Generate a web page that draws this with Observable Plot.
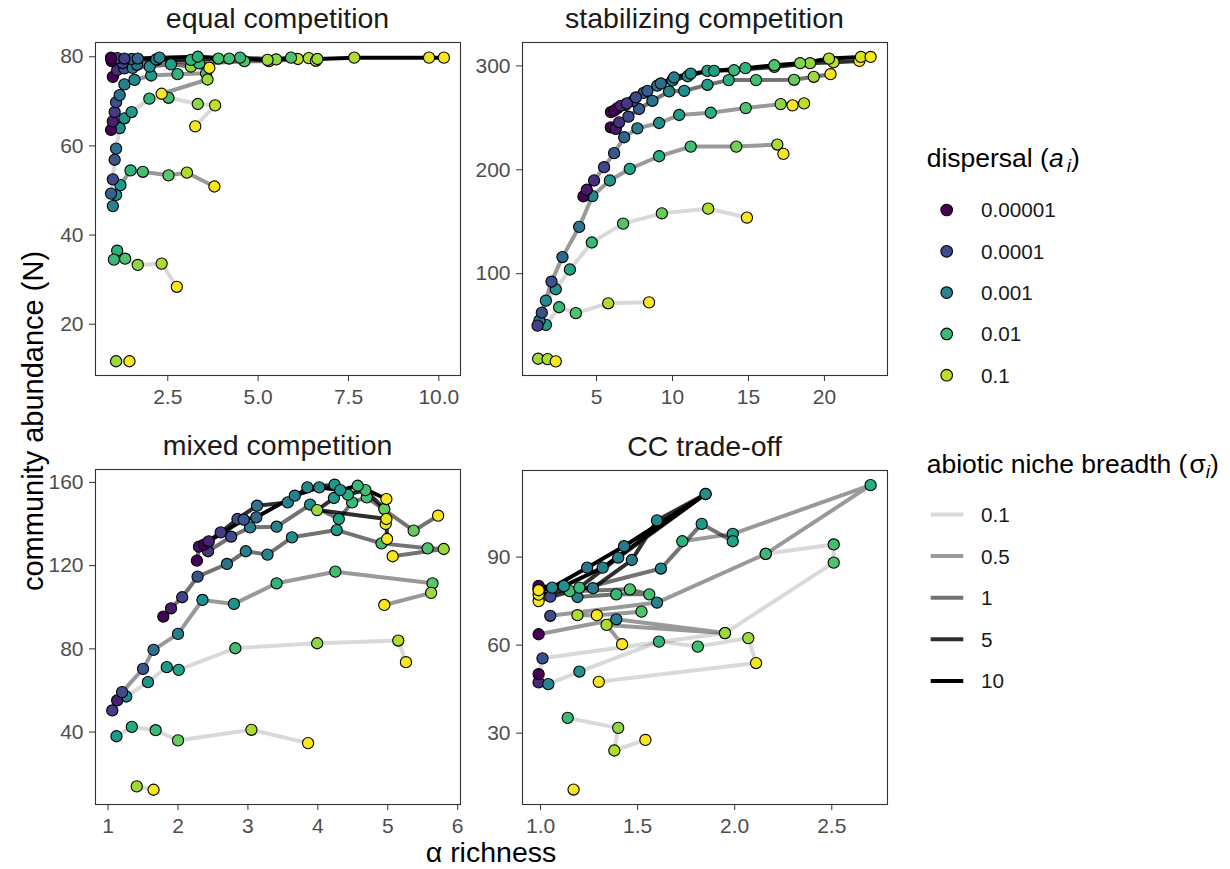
<!DOCTYPE html>
<html><head><meta charset="utf-8">
<script src="https://cdn.jsdelivr.net/npm/d3@7"></script>
<script src="https://cdn.jsdelivr.net/npm/@observablehq/plot@0.6"></script>
<style>
body{margin:0;background:#fff;}
#wrap{position:relative;width:1230px;height:869px;overflow:hidden;background:#fff;font-family:"Liberation Sans",Arial,sans-serif;}
.panel{position:absolute;}
#overlay{position:absolute;left:0;top:0;}
</style></head><body><div id="wrap"></div>
<script>
// ---- data: each line = one trajectory; pts = [alpha richness, community abundance, log10 dispersal]
const equalLines = [
 {sigma:0.1, pts:[[1.07,11.7,-1.2],[1.44,11.7,-0.6]]},
 {sigma:0.1, pts:[[1.10,36.5,-2.2],[1.01,34.5,-2.0],[1.32,34.7,-1.8],[1.67,33.3,-1.3],[2.33,33.6,-1.1],[2.75,28.4,-0.6]]},
 {sigma:0.5, pts:[[0.98,46.5,-3.0],[1.07,49.0,-2.8],[1.19,51.2,-2.6],[1.47,54.5,-2.1],[1.81,54.2,-1.9],[2.52,53.4,-1.7],[3.03,54.0,-1.1],[3.79,50.9,-0.6]]},
 {sigma:0.1, pts:[[0.93,49.3,-3.6],[0.98,52.5,-4.0],[1.03,56.9,-3.8],[1.07,59.4,-3.4],[1.17,64.0,-2.9],[1.30,66.2,-2.7],[1.50,67.6,-2.6],[1.99,70.6,-2.1],[2.52,70.8,-1.9],[3.33,69.4,-1.3],[3.81,69.1,-1.0],[3.26,64.4,-0.6]]},
 {sigma:0.5, pts:[[0.93,63.6,-5],[0.98,65.5,-4.6],[1.03,67.6,-4.2],[1.07,69.8,-3.9],[1.17,71.4,-3.3],[1.30,73.8,-3.1],[1.58,74.8,-2.9],[2.04,75.8,-2.6],[2.77,76.1,-2.1],[3.56,76.3,-1.8],[3.60,74.9,-1.2],[2.33,71.7,-0.6]]},
 {sigma:1, pts:[[0.98,75.5,-5],[1.10,77.0,-4.4],[1.30,77.4,-3.9],[1.53,77.5,-3.2],[2.00,77.8,-2.8],[2.59,78.3,-2.5],[3.14,77.8,-1.3],[3.65,77.5,-0.6]]},
 {sigma:1, pts:[[0.95,79.0,-5],[1.25,78.6,-4.1],[1.65,78.2,-3.3],[2.20,79.3,-2.8],[3.37,78.5,-2.0],[4.62,79.0,-1.8],[5.30,79.0,-1.3],[6.10,79.5,-1.0]]},
 {sigma:5, pts:[[0.93,79.8,-5],[1.10,79.7,-4.3],[1.50,79.5,-3.7],[2.18,79.4,-3.2],[3.14,79.3,-2.1],[3.90,79.6,-1.9],[4.50,79.8,-2.0],[5.50,79.4,-1.3],[6.40,79.7,-1.1],[6.60,79.1,-0.6]]},
 {sigma:10, pts:[[0.93,79.6,-5],[1.30,79.6,-4.2],[1.67,79.6,-3.5],[2.27,79.8,-3.0],[3.33,80.0,-2.2],[4.20,79.6,-1.9],[5.26,79.3,-1.2],[5.91,79.8,-1.8],[6.64,79.5,-1.2],[7.66,79.8,-1.1],[9.73,79.8,-0.7],[10.14,79.8,-0.6]]}
];
const stabilizingLines = [
 {sigma:0.1, pts:[[1.16,18.1,-1.2],[1.78,17.8,-1.1],[2.32,15.6,-0.6]]},
 {sigma:0.1, pts:[[1.67,50.7,-2.6],[2.54,67.7,-2.0],[3.64,62.0,-1.8],[5.77,71.5,-1.1],[8.46,72.4,-0.6]]},
 {sigma:0.1, pts:[[1.25,55.0,-3.2],[1.67,74.0,-2.9],[2.32,85.0,-2.7],[3.25,104.0,-2.4],[4.69,130.0,-2.0],[6.75,148.2,-1.8],[9.30,158.1,-1.6],[12.35,162.6,-1.1],[14.90,154.0,-0.6]]},
 {sigma:0.5, pts:[[1.12,50.0,-4.2],[1.40,62.5,-3.9],[2.04,92.3,-3.9],[2.76,116.0,-3.5],[3.86,145.0,-3.3],[4.73,174.7,-2.9],[5.88,189.7,-2.7],[7.19,200.9,-2.4],[9.12,213.0,-2.2],[11.2,222.3,-1.9],[14.2,222.3,-1.5],[16.9,224.3,-1.1],[17.3,215.3,-0.6]]},
 {sigma:0.5, pts:[[4.14,174.4,-5],[4.36,180.8,-4.7],[4.84,189.7,-4.4],[5.50,202.5,-4.0],[6.16,216.0,-3.8],[6.82,231.3,-3.5],[7.69,239.9,-3.1],[9.12,245.0,-2.8],[10.44,252.7,-2.5],[12.52,254.9,-2.2],[14.82,259.4,-1.8],[17.12,263.2,-1.3],[18.66,263.9,-1.0],[17.90,262.0,-0.6]]},
 {sigma:1, pts:[[5.94,240.9,-5],[6.27,239.3,-4.7],[6.49,245.7,-4.4],[7.10,251.1,-4.0],[7.80,258.5,-3.7],[8.68,266.4,-3.3],[9.78,275.4,-3.0],[10.77,276.0,-2.8],[12.3,281.8,-2.5],[13.7,286.3,-2.2],[15.5,286.3,-1.9],[18.0,286.6,-1.6],[19.3,289.5,-1.2],[20.4,292.0,-0.6]]},
 {sigma:5, pts:[[5.95,255.5,-5],[6.38,259.4,-4.6],[6.90,262.5,-4.3],[7.40,266.0,-4.0],[8.10,274.0,-3.6],[9.00,281.0,-3.3],[10.0,286.0,-3.0],[11.0,290.0,-2.7],[12.3,295.2,-2.4],[14.05,295.8,-2.0],[16.7,299.0,-1.7],[19.05,302.6,-1.3],[20.6,303.5,-1.0],[22.3,304.8,-0.6]]},
 {sigma:10, pts:[[6.16,256.9,-5],[6.60,261.6,-4.6],[7.00,263.9,-4.3],[7.59,269.6,-4.0],[8.35,276.0,-3.7],[9.23,283.1,-3.4],[10.1,288.8,-3.1],[11.2,292.6,-2.8],[12.74,295.2,-2.5],[14.8,297.8,-2.1],[16.7,300.6,-1.8],[18.4,302.6,-1.4],[20.3,307.0,-1.1],[22.4,308.6,-0.8],[23.04,308.6,-0.6]]}
];
const mixedLines = [
 {sigma:0.1, pts:[[1.41,13.9,-1.2],[1.65,12.3,-0.6]]},
 {sigma:0.1, pts:[[1.12,38.0,-2.6],[1.34,42.5,-2.3],[1.68,40.9,-2.0],[2.00,36.0,-1.6],[3.05,41.1,-1.1],[3.86,34.7,-0.6]]},
 {sigma:0.1, pts:[[1.26,57.1,-2.9],[1.57,64.0,-2.7],[1.84,71.2,-2.6],[2.01,69.9,-2.4],[2.82,80.3,-1.9],[3.99,82.7,-1.3],[5.15,84.0,-1.1],[5.26,73.6,-0.6]]},
 {sigma:0.5, pts:[[1.06,50.4,-4.2],[1.13,55.2,-4.6],[1.20,59.2,-4.0],[1.50,70.4,-3.8],[1.65,79.5,-3.4],[2.00,87.2,-3.1],[2.35,103.5,-2.8],[2.80,101.6,-2.7],[3.41,111.5,-2.1],[4.25,117.1,-1.9],[5.64,111.5,-1.7],[5.62,106.9,-1.2],[4.95,101.1,-0.6]]},
 {sigma:1, pts:[[1.79,95.5,-5],[1.90,99.5,-4.7],[2.06,104.8,-4.1],[2.28,114.7,-3.9],[2.70,120.8,-3.3],[2.97,126.9,-3.1],[3.28,125.3,-3.0],[3.63,133.6,-2.8],[4.27,137.1,-2.5],[4.91,130.7,-1.9],[5.57,128.3,-1.8],[5.80,128.0,-1.2],[5.07,124.5,-0.6]]},
 {sigma:1, pts:[[2.27,122.4,-5],[2.30,129.1,-4.8],[2.43,126.9,-4.3],[2.76,133.9,-4.0],[3.03,138.4,-3.1],[3.41,138.7,-3.0],[3.89,149.3,-2.8],[4.30,142.4,-2.4],[4.49,150.4,-2.0],[4.70,152.8,-1.9],[5.37,136.8,-1.6],[5.72,144.0,-0.6]]},
 {sigma:5, pts:[[2.37,130.1,-5],[2.61,136.0,-4.2],[2.85,142.4,-3.9],[3.13,148.8,-3.3],[3.57,150.4,-3.1],[3.85,157.6,-2.9],[4.24,158.9,-2.6],[4.43,154.1,-2.2],[4.68,156.3,-1.9],[4.95,147.2,-1.6],[4.97,140.0,-0.7]]},
 {sigma:5, pts:[[4.23,152.5,-2.6],[3.99,146.7,-1.2],[4.98,142.4,-0.7],[4.99,132.8,-0.6]]},
 {sigma:10, pts:[[2.44,131.7,-4.6],[2.94,142.1,-3.8],[3.12,143.2,-3.5],[3.67,153.6,-3.1],[4.02,157.6,-2.9],[4.32,156.3,-2.7],[4.57,158.4,-2.0],[4.98,152.0,-0.6]]}
];
const tradeoffLines = [
 {sigma:0.1, pts:[[1.17,10.8,-0.6]]},
 {sigma:0.1, pts:[[1.14,35.2,-2.0],[1.40,31.8,-1.3],[1.38,24.1,-1.1],[1.54,27.7,-0.6]]},
 {sigma:0.1, pts:[[0.99,47.3,-4.5],[1.04,46.7,-3.0],[1.20,51.0,-2.7],[1.61,61.2,-2.1],[1.81,59.5,-1.9],[2.07,62.4,-1.2],[2.11,53.9,-0.65],[1.30,47.5,-0.6]]},
 {sigma:0.1, pts:[[0.99,50.1,-5],[1.01,55.5,-3.9],[1.95,64.1,-1.2],[2.51,88.1,-1.8],[2.51,94.3,-1.9],[2.16,91.1,-2.0]]},
 {sigma:0.5, pts:[[1.05,70.0,-4.0],[1.60,74.5,-3.0],[2.16,91.1,-2.0],[2.70,114.5,-2.2],[1.99,97.9,-2.5],[1.73,95.4,-2.1]]},
 {sigma:0.5, pts:[[0.99,63.7,-5],[1.39,68.8,-3.1],[1.95,64.1,-1.2],[1.34,66.9,-1.1],[1.42,60.3,-0.6]]},
 {sigma:0.5, pts:[[1.52,71.4,-1.8],[1.29,70.2,-0.6],[1.19,70.2,-1.1]]},
 {sigma:1, pts:[[0.99,79.0,-5],[1.05,76.5,-4.0],[1.62,86.1,-3.0],[1.83,101.3,-2.6],[1.99,95.4,-2.4]]},
 {sigma:1, pts:[[1.19,76.4,-3.0],[1.39,77.3,-2.0],[1.56,77.3,-1.9],[1.46,79.0,-1.8],[1.15,78.4,-1.9],[0.99,75.0,-0.6]]},
 {sigma:5, pts:[[0.99,79.5,-5],[1.27,79.4,-3.2],[1.47,89.0,-3.2],[1.60,102.5,-3.0],[1.85,111.5,-2.8],[1.40,89.8,-3.1],[1.20,79.6,-2.0],[0.99,77.2,-0.7]]},
 {sigma:10, pts:[[0.99,80.2,-5],[1.06,79.6,-2.9],[1.24,86.4,-3.3],[1.43,93.7,-3.2],[1.85,111.5,-2.8],[1.32,86.4,-3.1],[1.12,80.1,-2.8],[0.99,78.7,-0.6]]}
];
const facetTitles = ["equal competition","stabilizing competition","mixed competition","CC trade-off"];
const xTicks = [[2.5,5,7.5,10],[5,10,15,20],[1,2,3,4,5,6],[1,1.5,2,2.5]];
const yTicks = [[20,40,60,80],[100,200,300],[40,80,120,160],[30,60,90]];
const sigmaLevels = [0.1,0.5,1,5,10];
const sigmaAlpha = [0.15,0.4,0.55,0.82,1];
const dispersalBreaks = [1e-5,1e-4,1e-3,1e-2,1e-1];
const dispersalLabels = ["0.00001","0.0001","0.001","0.01","0.1"];

// ---- layout
const FONT = '"Liberation Sans", Arial, sans-serif';
const colorOpts = {type:"linear", domain:[-5,-0.55], scheme:"viridis"};
const panels = [
 {lines:equalLines, x:[0.5,10.6], y:[8.5,83.2], fmt:d=>d.toFixed(1), left:95, top:42, h:333},
 {lines:stabilizingLines, x:[0.13,24.15], y:[2,322.5], fmt:d=>String(d), left:522, top:42, h:333},
 {lines:mixedLines, x:[0.82,6.04], y:[5.2,166.2], fmt:d=>String(d), left:95, top:469, h:335},
 {lines:tradeoffLines, x:[0.907,2.787], y:[5.7,119.5], fmt:d=>d.toFixed(1), left:522, top:470, h:334}
];
const boxW = 365, mL = 70, mR = 12, mT = 12, mB = 45;
const wrap = document.getElementById("wrap");

// overlay for titles and legends
const ov = d3.select(wrap).append("svg").attr("id","overlay").attr("width",1230).attr("height",869)
  .style("font-family",FONT);

panels.forEach((p,i)=>{
  const rows = [];
  p.lines.forEach((ln,j)=>ln.pts.forEach(([x,y,la])=>rows.push({id:j, sigma:ln.sigma, x, y, la})));
  const svg = Plot.plot({
    width: boxW+mL+mR, height: p.h+mT+mB,
    marginLeft:mL, marginRight:mR, marginTop:mT, marginBottom:mB,
    x:{domain:p.x, label:null},
    y:{domain:p.y, label:null},
    color: colorOpts,
    style:{fontFamily:FONT, background:"transparent", overflow:"visible"},
    marks:[
      ...sigmaLevels.map((s,k)=>Plot.line(rows.filter(r=>r.sigma===s), {x:"x", y:"y", z:"id", stroke:"black", strokeOpacity:sigmaAlpha[k], strokeWidth:4, strokeLinejoin:"round"})),
      Plot.dot(rows, {x:"x", y:"y", fill:"la", stroke:"black", strokeWidth:1.1, r:5.6}),
      Plot.frame({stroke:"#333", strokeWidth:1.1}),
      Plot.axisX({ticks:xTicks[i], tickFormat:p.fmt, tickSize:6, tickPadding:8, fontSize:21, stroke:"#333", fill:"#4d4d4d", label:null}),
      Plot.axisY({ticks:yTicks[i], tickSize:6, tickPadding:6, fontSize:21, stroke:"#333", fill:"#4d4d4d", label:null})
    ]
  });
  const div = document.createElement("div");
  div.className = "panel";
  div.style.left = (p.left-mL)+"px";
  div.style.top = (p.top-mT)+"px";
  div.appendChild(svg);
  wrap.appendChild(div);
  ov.append("text").attr("x", p.left+boxW/2).attr("y", p.top-14).attr("text-anchor","middle")
    .attr("font-size",28.5).attr("fill","#1a1a1a").text(facetTitles[i]);
});

// axis titles
ov.append("text").attr("transform","translate(43,421) rotate(-90)").attr("text-anchor","middle")
  .attr("font-size",29).attr("fill","#000").text("community abundance (N)");
ov.append("text").attr("x",491).attr("y",862).attr("text-anchor","middle")
  .attr("font-size",28.5).attr("fill","#000").text("α richness");

// legends
const cscale = Plot.scale({color: colorOpts});
const t1 = ov.append("text").attr("x",926.7).attr("y",167.3).attr("font-size",26.5).attr("fill","#000");
t1.append("tspan").text("dispersal (");
t1.append("tspan").attr("font-style","italic").text("a");
t1.append("tspan").attr("font-style","italic").attr("font-size",19).attr("dx",3).attr("dy",5).text("i");
t1.append("tspan").attr("dy",-5).text(")");
dispersalBreaks.forEach((v,k)=>{
  const y = 210 + 41.3*k;
  ov.append("circle").attr("cx",946.7).attr("cy",y).attr("r",5.8).attr("fill",cscale.apply(Math.log10(v))).attr("stroke","black").attr("stroke-width",1.1);
  ov.append("text").attr("x",981).attr("y",y+7.4).attr("font-size",20.7).attr("fill","#1a1a1a").text(dispersalLabels[k]);
});
const t2 = ov.append("text").attr("x",926.7).attr("y",473.3).attr("font-size",26.5).attr("fill","#000");
t2.append("tspan").text("abiotic niche breadth (");
t2.append("tspan").attr("dx",2).text("σ");
t2.append("tspan").attr("font-style","italic").attr("font-size",19).attr("dy",5).text("i");
t2.append("tspan").attr("dy",-5).text(")");
sigmaLevels.forEach((s,k)=>{
  const y = 514.5 + 41.6*k;
  ov.append("line").attr("x1",930.7).attr("x2",963.3).attr("y1",y).attr("y2",y)
    .attr("stroke","black").attr("stroke-opacity",sigmaAlpha[k]).attr("stroke-width",4);
  ov.append("text").attr("x",981).attr("y",y+7.5).attr("font-size",20.7).attr("fill","#1a1a1a").text(String(s));
});
</script></body></html>
